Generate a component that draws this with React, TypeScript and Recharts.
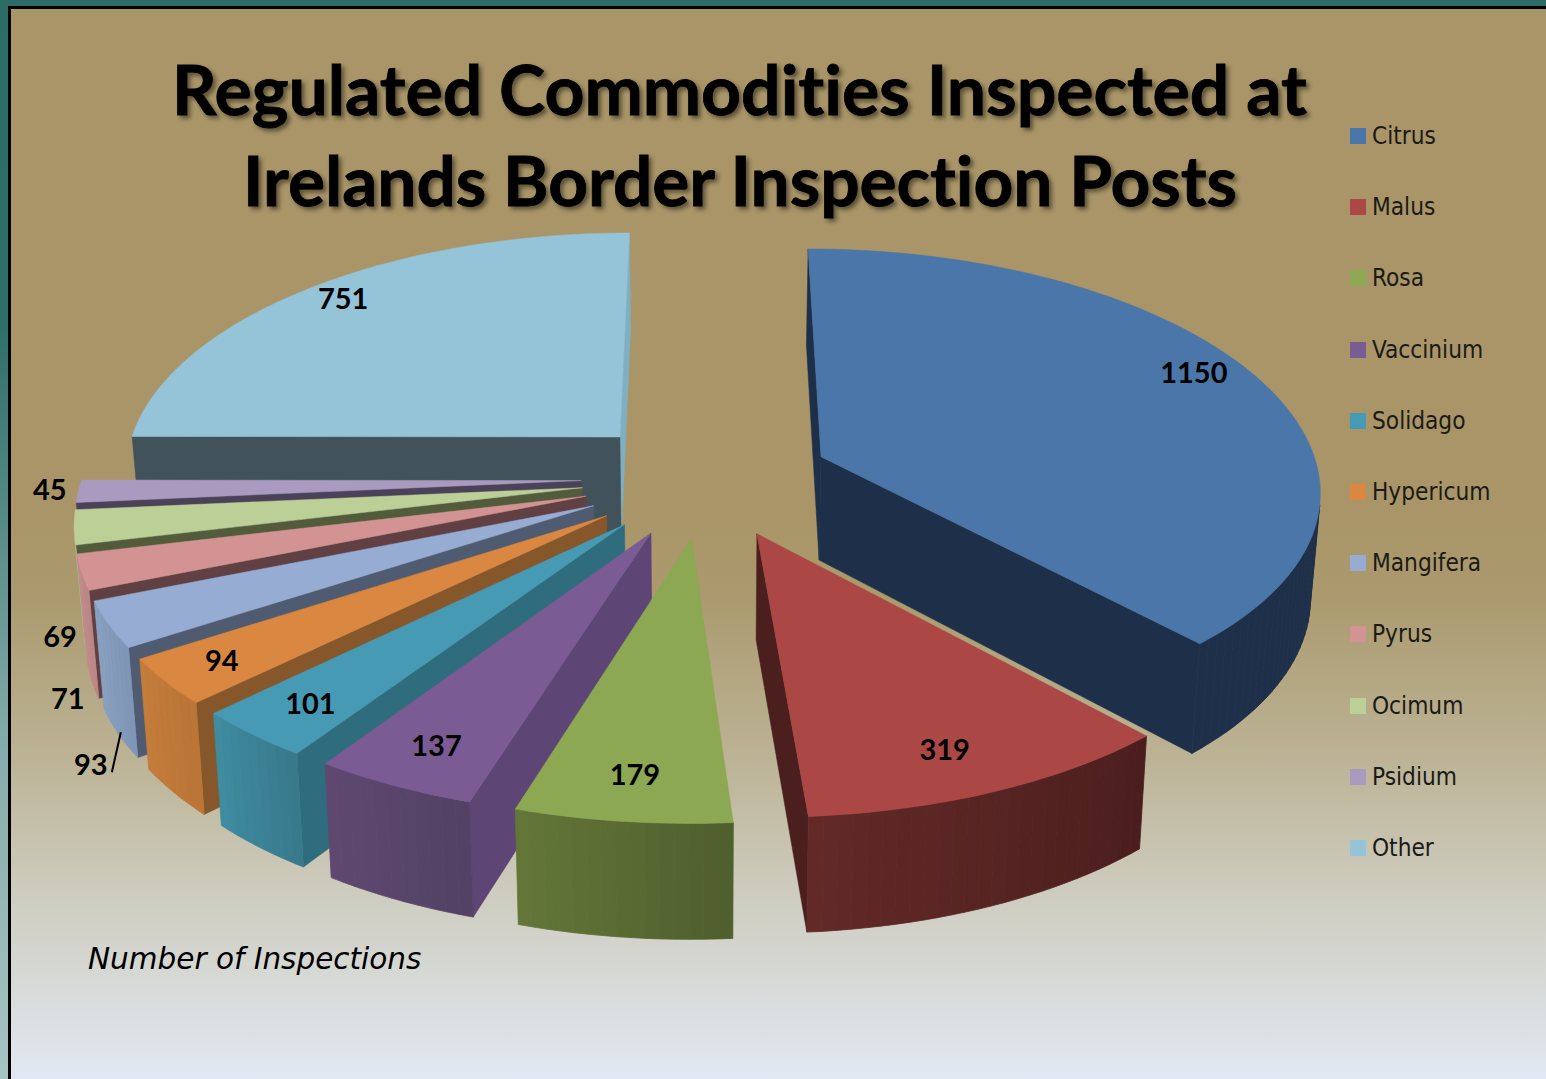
import React from "react";
import { Legend, Pie, PieChart } from "recharts";

// clockwise from 12 o'clock, same order as the legend
const categories = ["Citrus", "Malus", "Rosa", "Vaccinium", "Solidago", "Hypericum", "Mangifera", "Pyrus", "Ocimum", "Psidium", "Other"];
const inspections = [1150, 319, 179, 137, 101, 94, 93, 71, 69, 45, 751];

interface SliceColors {
  top: string;
  side: string;
  rim: [number[], number[]];
  edge?: string;
}

const colors: Record<string, SliceColors> = {
  Citrus: { top: "#4a76a9", side: "#1e3049", rim: [[30, 48, 73], [30, 48, 73]] },
  Malus: { top: "#ab4745", side: "#4b1f1e", rim: [[98, 41, 39], [74, 30, 29]] },
  Rosa: { top: "#8ca853", side: "#4f5f2f", rim: [[99, 118, 56], [78, 93, 45]] },
  Vaccinium: { top: "#7a5b94", side: "#5d4575", rim: [[94, 72, 112], [82, 65, 100]] },
  Solidago: { top: "#469ab4", side: "#2e6c7e", rim: [[63, 139, 160], [55, 120, 138]] },
  Hypericum: { top: "#da8742", side: "#85572a", rim: [[196, 124, 58], [184, 116, 54]] },
  Mangifera: { top: "#96acd3", side: "#4f5b70", rim: [[138, 160, 192], [126, 148, 182]] },
  Pyrus: { top: "#d29392", side: "#604042", rim: [[196, 142, 142], [186, 134, 134]] },
  Ocimum: { top: "#bbcf97", side: "#525c3c", rim: [[170, 186, 136], [170, 186, 136]] },
  Psidium: { top: "#aa9abf", side: "#4a4258", rim: [[150, 136, 170], [150, 136, 170]] },
  Other: { top: "#95c3d8", side: "#42525a", edge: "#7fb0c2", rim: [[66, 82, 90], [66, 82, 90]] },
};

// where the value label sits: radial fraction of the slice plus a nudge
const labelSpots: Record<string, [number, number, number]> = {
  Citrus: [0.8, 22, -20],
  Malus: [0.8, 2, 14],
  Rosa: [0.8, -3, 15],
  Vaccinium: [0.8, -14, 14],
  Solidago: [0.8, -23, 13],
  Hypericum: [0.8, -38, 13],
  Mangifera: [1.1, 34, 126],
  Pyrus: [1.1, 39, 117],
  Ocimum: [1.1, 38, 104],
  Psidium: [1.1, 22, -4],
  Other: [0.8, -25, -19],
};

// painted back to front, so the table runs the other way round the pie
const tableData = categories
  .map((name, i) => ({ name, value: inspections[i], fill: colors[name].top }))
  .reverse();

const EXPLODE = 0.25;
const PERSPECTIVE = 0.116;
const PERSPECTIVE_X = 0.128;
const HORIZON = 2040;
const RAD = Math.PI / 180;

const project = (p: any, gx: number, gy: number, z = 0): [number, number] => {
  const s = 1 / (1 + PERSPECTIVE * gy);
  const sx = 1 / (1 + PERSPECTIVE_X * gy);
  return [
    p.cx + p.outerRadius * gx * sx * (1 - 0.016 * z),
    p.cy + HORIZON * (s - 1) + z * (34 + 70 * s),
  ];
};

const toPath = (pts: [number, number][]) =>
  "M" + pts.map((q) => q[0].toFixed(1) + " " + q[1].toFixed(1)).join("L") + "Z";

const cross = (a: number[], b: number[], c: number[]) =>
  (b[0] - a[0]) * (c[1] - a[1]) - (b[1] - a[1]) * (c[0] - a[0]);

const Slice3D = (props: any) => {
  const { startAngle, endAngle, name } = props;
  const palette = colors[name];
  const mid = ((startAngle + endAngle) / 2) * RAD;
  const ox = EXPLODE * Math.cos(mid);
  const oy = EXPLODE * Math.sin(mid);
  const rimAt = (deg: number, z = 0) =>
    project(props, ox + Math.cos(deg * RAD), oy + Math.sin(deg * RAD), z);
  const apex = project(props, ox, oy);
  const apexLow = project(props, ox, oy, 1);

  const steps = Math.max(2, Math.ceil((endAngle - startAngle) / 1.5));
  const angles: number[] = [];
  for (let i = 0; i <= steps; i++) angles.push(startAngle + ((endAngle - startAngle) * i) / steps);
  const rimTop = angles.map((a) => rimAt(a));

  const radial = (deg: number, other: number, fill: string) => {
    const rim = rimAt(deg);
    const low = rimAt(deg, 1);
    const inner = rimAt(other);
    if (cross(apex, rim, inner) * cross(apex, rim, low) >= 0) return null;
    return <path d={toPath([apex, rim, low, apexLow])} fill={fill} stroke={fill} strokeWidth={0.5} />;
  };

  const rimFaces = angles.slice(0, -1).map((a, i) => {
    const b = angles[i + 1];
    const quad = [rimAt(a), rimAt(b), rimAt(b, 1), rimAt(a, 1)];
    // skip faces that turn away from the viewer
    if (cross(quad[0], quad[1], quad[2]) <= 0) return null;
    const t = i / steps;
    const [from, to] = palette.rim;
    const rgb = from.map((c, k) => Math.round(c + (to[k] - c) * t));
    const fill = `rgb(${rgb.join(",")})`;
    return <path key={i} d={toPath(quad)} fill={fill} stroke={fill} strokeWidth={0.8} />;
  });

  return (
    <g>
      {radial(startAngle, endAngle, palette.edge ?? palette.side)}
      {radial(endAngle, startAngle, palette.side)}
      {rimFaces}
      <path d={toPath([apex, ...rimTop])} fill={palette.top} stroke={palette.top} strokeWidth={0.5} />
    </g>
  );
};

const ValueLabel = (props: any) => {
  const { midAngle, name, value } = props;
  const [r, dx, dy] = labelSpots[name];
  const a = midAngle * RAD;
  const [px, py] = project(props, (EXPLODE + r) * Math.cos(a), (EXPLODE + r) * Math.sin(a));
  const x = px + dx;
  const y = py + dy;
  return (
    <g>
      <text
        x={x}
        y={y}
        textAnchor="middle"
        dominantBaseline="central"
        fontFamily="Lato, sans-serif"
        fontWeight={700}
        fontSize={29}
        fill="#000"
      >
        {value}
      </text>
      {name === "Mangifera" && <line x1={x + 21} y1={y + 9} x2={x + 30} y2={y - 31} stroke="#000" strokeWidth={2} />}
    </g>
  );
};

const SideLegend = ({ payload }: any) => (
  <div>
    {[...(payload ?? [])].reverse().map((item: any) => (
      <div key={item.value} style={{ height: 71.2, display: "flex", alignItems: "flex-start" }}>
        <span style={{ width: 16, height: 16, marginTop: 10, background: item.color }} />
        <span style={{ marginLeft: 6, fontFamily: "'DejaVu Sans Condensed', 'DejaVu Sans'", fontSize: 24.2, color: "#1a1a16", lineHeight: "36px" }}>
          {item.value}
        </span>
      </div>
    ))}
  </div>
);

const titleStyle: React.CSSProperties = {
  filter: "drop-shadow(3px 3px 2px rgba(0,0,0,0.45))",
  fontVariantLigatures: "none",
};

export default function App() {
  return (
    <div
      style={{
        position: "absolute",
        left: 0,
        top: 0,
        width: 1546,
        height: 1079,
        overflow: "hidden",
        background: "linear-gradient(180deg, #2c6b66 0%, #2f6e6a 30%, #86adab 70%, #a6c3c2 100%)",
      }}
    >
      <div
        style={{
          position: "absolute",
          left: 8,
          top: 6,
          width: 1538,
          height: 1073,
          boxSizing: "border-box",
          borderLeft: "3px solid #000",
          borderTop: "3px solid #000",
          background:
            "linear-gradient(180deg, #a99567 0%, #a99567 47%, #ab9a6f 55%, #bcb395 70%, #cdcbbd 82%, #d6d8d4 90%, #e2e8f3 100%)",
        }}
      />
      <PieChart
        width={1546}
        height={1079}
        margin={{ top: 0, right: 0, bottom: 0, left: 0 }}
        style={{ position: "absolute", left: 0, top: 0 }}
      >
        <text x={739.5} y={115} textAnchor="middle" fontFamily="Lato, sans-serif" fontWeight={700} fontSize={68} textLength={1135} lengthAdjust="spacingAndGlyphs" fill="#000" stroke="#000" strokeWidth={0.8} style={titleStyle}>
          Regulated Commodities Inspected at
        </text>
        <text x={740} y={206} textAnchor="middle" fontFamily="Lato, sans-serif" fontWeight={700} fontSize={68} textLength={994} lengthAdjust="spacingAndGlyphs" fill="#000" stroke="#000" strokeWidth={0.8} style={titleStyle}>
          Irelands Border Inspection Posts
        </text>
        <text x={88} y={969} fontFamily="'DejaVu Sans', sans-serif" fontStyle="italic" fontSize={29.5} fill="#000">
          Number of Inspections
        </text>
        <Pie
          data={tableData}
          dataKey="value"
          nameKey="name"
          cx={706}
          cy={478}
          innerRadius={0}
          outerRadius={499}
          startAngle={90}
          endAngle={450}
          stroke="none"
          shape={Slice3D}
          label={ValueLabel}
          labelLine={false}
          isAnimationActive={false}
        />
        <Legend
          content={SideLegend}
          itemSorter={null}
          layout="vertical"
          wrapperStyle={{ position: "absolute", left: 1350, top: 118, width: 190, height: 800 }}
        />
      </PieChart>
    </div>
  );
}
